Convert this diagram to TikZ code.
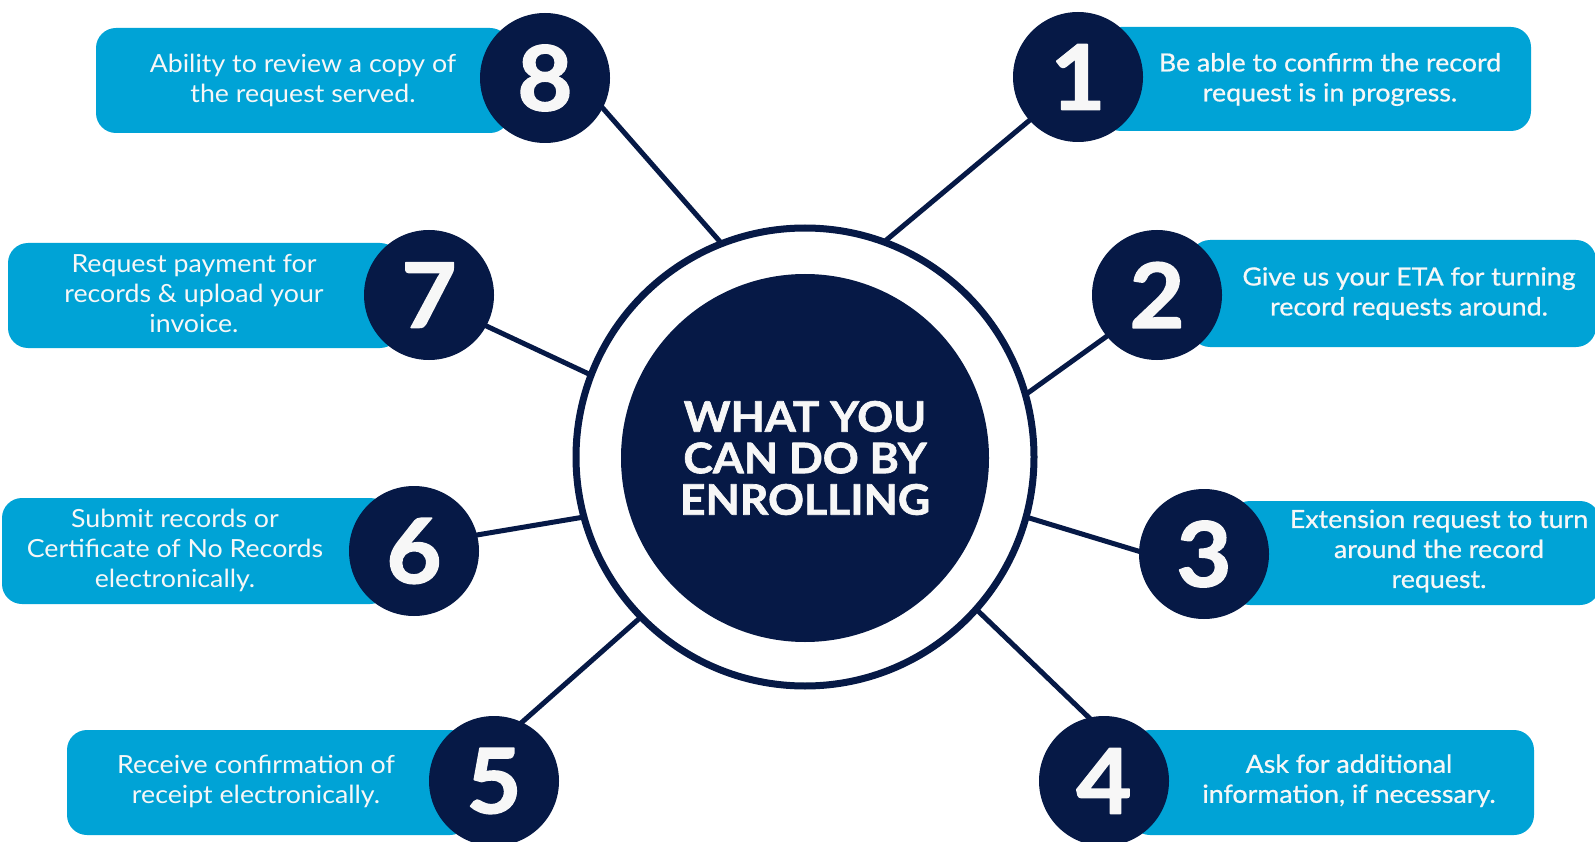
\documentclass[tikz,border=0pt]{standalone}
\usepackage{fontspec}
\setmainfont[FakeStretch=1.07]{Lato}
\newfontfamily\semib[FakeStretch=1.07,FakeBold=0.7]{Lato}
\newfontfamily\heavy[FakeStretch=1.06,BoldFeatures={FakeBold=1.6}]{Lato}
\definecolor{qqaadd}{rgb}{0,0.64,0.84}
\definecolor{qqbbtt}{rgb}{0.024,0.1,0.275}
\definecolor{ffffff}{rgb}{0.97,0.97,0.97}

\begin{document}
\begin{tikzpicture}[line cap=round,line join=round,x=1pt,y=-1pt,
  tag/.style={fill=qqaadd,rounded corners=20pt,inner sep=0pt},
  num/.style={circle,fill=qqbbtt,text=ffffff,minimum size=130pt,inner sep=0pt,font=\heavy\bfseries\fontsize{90}{90}\selectfont},
  lefttxt/.style={text=ffffff,align=center,inner sep=0pt,font=\fontsize{25}{30}\selectfont},
  righttxt/.style={lefttxt,font=\semib\fontsize{25}{30}\selectfont},
  spoke/.style={line width=5pt,color=qqbbtt}]
\clip (0,0) rectangle (1595,842);
\fill[white] (0,0) rectangle (1595,842);
% boxes
\node[tag,minimum width=430pt,minimum height=104pt] (b1) at (1316,79) {};
\node[tag,minimum width=406pt,minimum height=107pt] (b2) at (1393,293.5) {};
\node[tag,minimum width=370pt,minimum height=104pt] (b3) at (1415,553) {};
\node[tag,minimum width=404pt,minimum height=105pt] (b4) at (1332,782.5) {};
\node[tag,minimum width=403pt,minimum height=105pt] (b5) at (268.5,782.5) {};
\node[tag,minimum width=388pt,minimum height=106pt] (b6) at (196,551) {};
\node[tag,minimum width=392pt,minimum height=105pt] (b7) at (204,295.5) {};
\node[tag,minimum width=414pt,minimum height=105pt] (b8) at (303,80.5) {};
% spokes
\coordinate (e1) at (1049,104); \coordinate (r1) at (884,242);
\coordinate (e2) at (1128,321); \coordinate (r2) at (1025,395);
\coordinate (e3) at (1161,558); \coordinate (r3) at (1026,517);
\coordinate (e4) at (1107,735); \coordinate (r4) at (976,609);
\coordinate (e5) at (503,739);  \coordinate (r5) at (641,617);
\coordinate (e6) at (453,539);  \coordinate (r6) at (584,517);
\coordinate (e7) at (465,316);  \coordinate (r7) at (591,375);
\coordinate (e8) at (586,89);   \coordinate (r8) at (722,244);
\foreach \i in {1,...,8}
  \draw[spoke] (e\i) -- (r\i);
% centre
\node[circle,draw=qqbbtt,line width=7pt,minimum size=458pt,inner sep=0pt] (ring) at (805,457) {};
\node[circle,fill=qqbbtt,minimum size=368pt,inner sep=0pt,text=ffffff,align=center,
  font=\heavy\bfseries\fontsize{42}{41.5}\selectfont] (core) at (805,458) {WHAT YOU\\CAN DO BY\\ENROLLING};
% numbers
\node[num] (n1) at (1078,77) {1};
\node[num] (n2) at (1157,295) {2};
\node[num] (n3) at (1204,554) {3};
\node[num] (n4) at (1104,781) {4};
\node[num] (n5) at (494,781) {5};
\node[num] (n6) at (414,551) {6};
\node[num] (n7) at (429,295) {7};
\node[num] (n8) at (545,78) {8};
% texts
\node[righttxt] (t1) at (1330,79.5) {Be able to confirm the record\\request is in progress.};
\node[righttxt] (t2) at (1409,293.5) {Give us your ETA for turning\\record requests around.};
\node[righttxt] (t3) at (1439,551) {Extension request to turn\\around the record\\request.};
\node[righttxt] (t4) at (1349,780.75) {Ask for additional\\information, if necessary.};
\node[lefttxt] (t5) at (256,781.25) {Receive confirmation of\\receipt electronically.};
\node[lefttxt] (t6) at (175,550.25) {Submit records or\\Certificate of No Records\\electronically.};
\node[lefttxt] (t7) at (194,293.85) {Request payment for\\records \& upload your\\invoice.};
\node[lefttxt] (t8) at (303,80.25) {Ability to review a copy of\\the request served.};
\end{tikzpicture}
\end{document}
